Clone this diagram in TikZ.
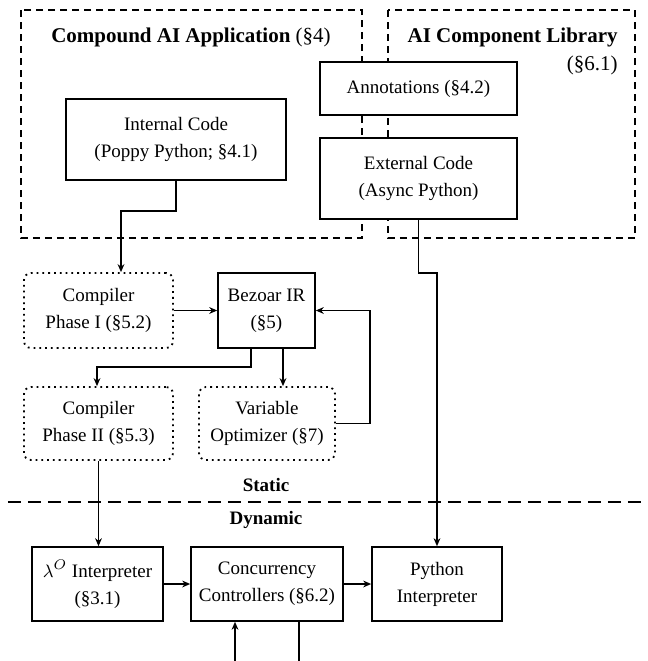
\documentclass[tikz,border=0pt]{standalone}
\usepackage{fontspec}
\setmainfont{Liberation Serif}
\usetikzlibrary{arrows.meta,calc}

\tikzset{
	box/.style={draw, fill=white, line width=0.8pt, align=center, inner sep=2pt, font=\fontsize{9.5}{13.5}\selectfont},
	softbox/.style={draw, dotted, rounded corners=3.5pt, line width=0.9pt, align=center, inner sep=2pt, font=\fontsize{9.5}{13.5}\selectfont},
	frame/.style={line width=0.8pt, dash pattern=on 3.5pt off 2.5pt},
	divider/.style={line width=0.8pt, dash pattern=on 6.5pt off 3.5pt},
	arr/.style={-{Stealth[length=4pt,width=3.4pt,inset=1.3pt]}, line width=0.75pt},
	heading/.style={inner sep=0pt, font=\fontsize{10.5}{14}\selectfont},
	side/.style={inner sep=0pt, font=\fontsize{9.5}{12}\selectfont\bfseries}
}

\begin{document}
\begin{tikzpicture}[x=0.5pt, y=-0.5pt]
		\useasboundingbox (0,0) rectangle (648,661);
		
		\draw[frame] (21,10) rectangle (362,238);
		\draw[frame] (388,10) rectangle (635,238);
		\node[heading] (apptitle) at (191,37) {\textbf{Compound AI Application} (§4)};
		\node[heading, anchor=east, align=right] (libtitle) at (618,51) {\textbf{AI Component Library}\\(§6.1)};
		
		\node[box, minimum width=110pt, minimum height=40.5pt] (internal) at (176,139.5) {Internal Code\\(Poppy Python; §4.1)};
		\node[box, minimum width=98.5pt, minimum height=26.5pt] (annot) at (418.5,88.5) {Annotations (§4.2)};
		\node[box, minimum width=98.5pt, minimum height=40.5pt] (external) at (418.5,178.5) {External Code\\(Async Python)};
		
		\node[softbox, minimum width=74.5pt, minimum height=37.5pt] (phaseI) at (98.5,310.5) {Compiler\\Phase I (§5.2)};
		\node[box, minimum width=48.5pt, minimum height=37.5pt] (bezoar) at (266.5,310.5) {Bezoar IR\\(§5)};
		\node[softbox, minimum width=74.5pt, minimum height=36.5pt] (phaseII) at (98.5,423.5) {Compiler\\Phase II (§5.3)};
		\node[softbox, minimum width=68pt, minimum height=36.5pt] (optimizer) at (267,423.5) {Variable\\Optimizer (§7)};
		
		\node[side] (static) at (266,485) {Static};
		\node[side] (dynamic) at (266,520) {Dynamic};
		\coordinate (cutL) at (8,502);
		\coordinate (cutR) at (648,502);
		\draw[divider] (cutL) -- (cutR);
		
		\node[box, minimum width=65.5pt, minimum height=37pt] (lambda) at (97.5,584) {$\lambda^{O}$ Interpreter\\(§3.1)};
		\node[box, minimum width=76pt, minimum height=37pt] (conc) at (267,584) {Concurrency\\Controllers (§6.2)};
		\node[box, minimum width=65pt, minimum height=37pt] (python) at (437,584) {Python\\Interpreter};
		
		\coordinate (bendA) at (121,211);
		\coordinate (bendB) at (437,273);
		\coordinate (bendC) at (97,367);
		\coordinate (bzL) at ($(bezoar.south)+(-15.5,0)$);
		\coordinate (bzR) at ($(bezoar.south)+(16.5,0)$);
		\draw[arr] (internal.south) |- (bendA) -- (bendA |- phaseI.north);
		\draw[arr] (external.south) |- (bendB) -- (python.north);
		\draw[arr] (phaseI.east) -- (bezoar.west);
		\draw[arr] (bzL) |- (bendC) -- (bendC |- phaseII.north);
		\draw[arr] (bzR) -- (bzR |- optimizer.north);
		\draw[arr] (optimizer.east) -- ++(34,0) |- (bezoar.east);
		\draw[arr] (phaseII.south) -- (phaseII.south |- lambda.north);
		\draw[arr] (lambda.east) -- (conc.west);
		\draw[arr] (conc.east) -- (python.west);
		
		\coordinate (inC) at ($(conc.south)+(-32,40)$);
		\coordinate (outC) at ($(conc.south)+(32,40)$);
		\draw[arr] (inC) -- (inC |- conc.south);
		\draw[line width=0.75pt] (outC |- conc.south) -- (outC);
		
\end{tikzpicture}
\end{document}
